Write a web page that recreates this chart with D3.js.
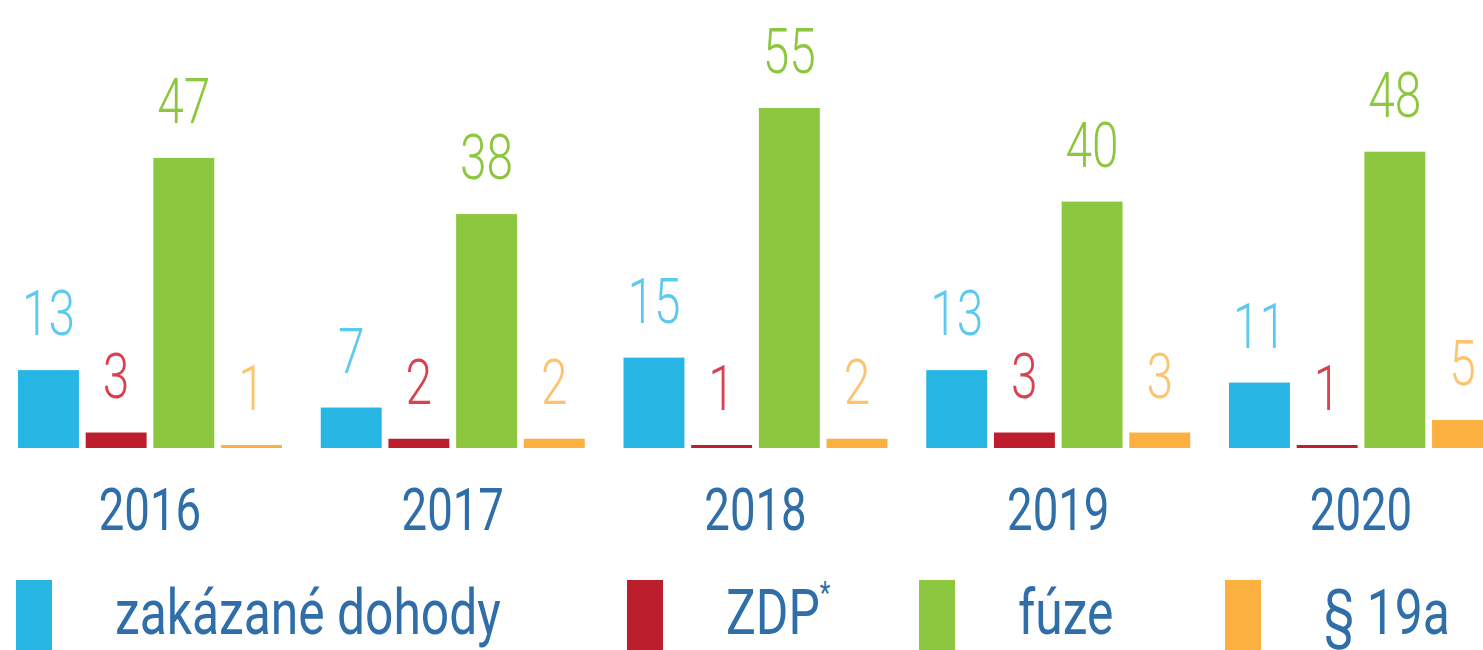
<!DOCTYPE html>
<html>
<head>
<meta charset="utf-8">
<script src="https://cdn.jsdelivr.net/npm/d3@7"></script>
<style>
	body { margin: 0; background: #fff; overflow: hidden; }
	svg { display: block; }
	text { font-family: Roboto, 'Noto Sans', sans-serif; }
</style>
</head>
<body>
<svg id="chart" width="1483" height="650"></svg>
<script>
// data
var years = ['2016', '2017', '2018', '2019', '2020'];
var series = ['zakázané dohody', 'ZDP', 'fúze', '§ 19a'];
var zakazane = [13, 7, 15, 13, 11];
var zdp = [3, 2, 1, 3, 1];
var fuze = [47, 38, 55, 40, 48];
var para19a = [1, 2, 2, 3, 5];

var barColors = ['#27b5e3', '#bc1e2d', '#8dc63f', '#fbb040'];
var labelColors = ['#5ccaf0', '#d8424f', '#8dc63f', '#fdc46e'];
var textColor = '#2f6ea8';

var width = 1483, height = 650;
var baseY = 448;
var legendX = [16, 627, 919, 1225];
var sx = 0.76; // the print font is condensed, squeeze Roboto to match

var svg = d3.select('#chart');

let rows = years.map((y, i) => ({
	year: y,
	vals: [zakazane[i], zdp[i], fuze[i], para19a[i]]
}));

let x0 = d3.scaleBand()
	.domain(years)
	.range([18, 1493])
	.paddingInner(0.128)
	.paddingOuter(0)
;
let x1 = d3.scaleBand()
	.domain(series)
	.range([0, x0.bandwidth()])
	.paddingInner(0.1)
	.paddingOuter(0)
;
// the printed bars are shallower for small values, so the scale starts near 1
let y = d3.scaleLinear()
	.domain([1, 55])
	.range([baseY - 3, 108])
;

let groups = svg.append('g').selectAll('g').data(rows).join('g')
	.attr('transform', d => 'translate(' + x0(d.year) + ',0)')
;

// bars
groups.selectAll('rect').data(d => d.vals).join('rect')
	.attr('x', (d, i) => x1(series[i]))
	.attr('y', d => y(d))
	.attr('width', x1.bandwidth())
	.attr('height', d => baseY - y(d))
	.style('fill', (d, i) => barColors[i])
;

// value labels
groups.selectAll('text.val').data(d => d.vals).join('text')
	.attr('class', 'val')
	.attr('transform', 'scale(' + sx + ',1)')
	.attr('x', (d, i) => (x1(series[i]) + x1.bandwidth() / 2) / sx)
	.attr('y', d => y(d) - 35)
	.attr('text-anchor', 'middle')
	.style('font-size', '63px')
	.style('font-weight', 300)
	.style('fill', (d, i) => labelColors[i])
	.text(d => d)
;

// year labels
groups.append('text')
	.attr('transform', 'scale(' + sx + ',1)')
	.attr('x', x0.bandwidth() / 2 / sx)
	.attr('y', 530)
	.attr('text-anchor', 'middle')
	.style('font-size', '60px')
	.style('fill', textColor)
	.text(d => d.year)
;

// legend
let lsx = 0.79;
let legend = svg.append('g').selectAll('g').data(series).join('g')
	.attr('transform', (d, i) => 'translate(' + legendX[i] + ',580)')
;
legend.append('rect')
	.attr('width', 36)
	.attr('height', 80)
	.style('fill', (d, i) => barColors[i])
;
let ltext = legend.append('text')
	.attr('transform', 'scale(' + lsx + ',1)')
	.attr('x', 99 / lsx)
	.attr('y', 54)
	.style('font-size', '63px')
	.style('fill', textColor)
	.text(d => d)
;
ltext.filter(d => d == 'ZDP').append('tspan')
	.attr('dy', -31)
	.style('font-size', '31px')
	.text('*')
;
</script>
</body>
</html>
